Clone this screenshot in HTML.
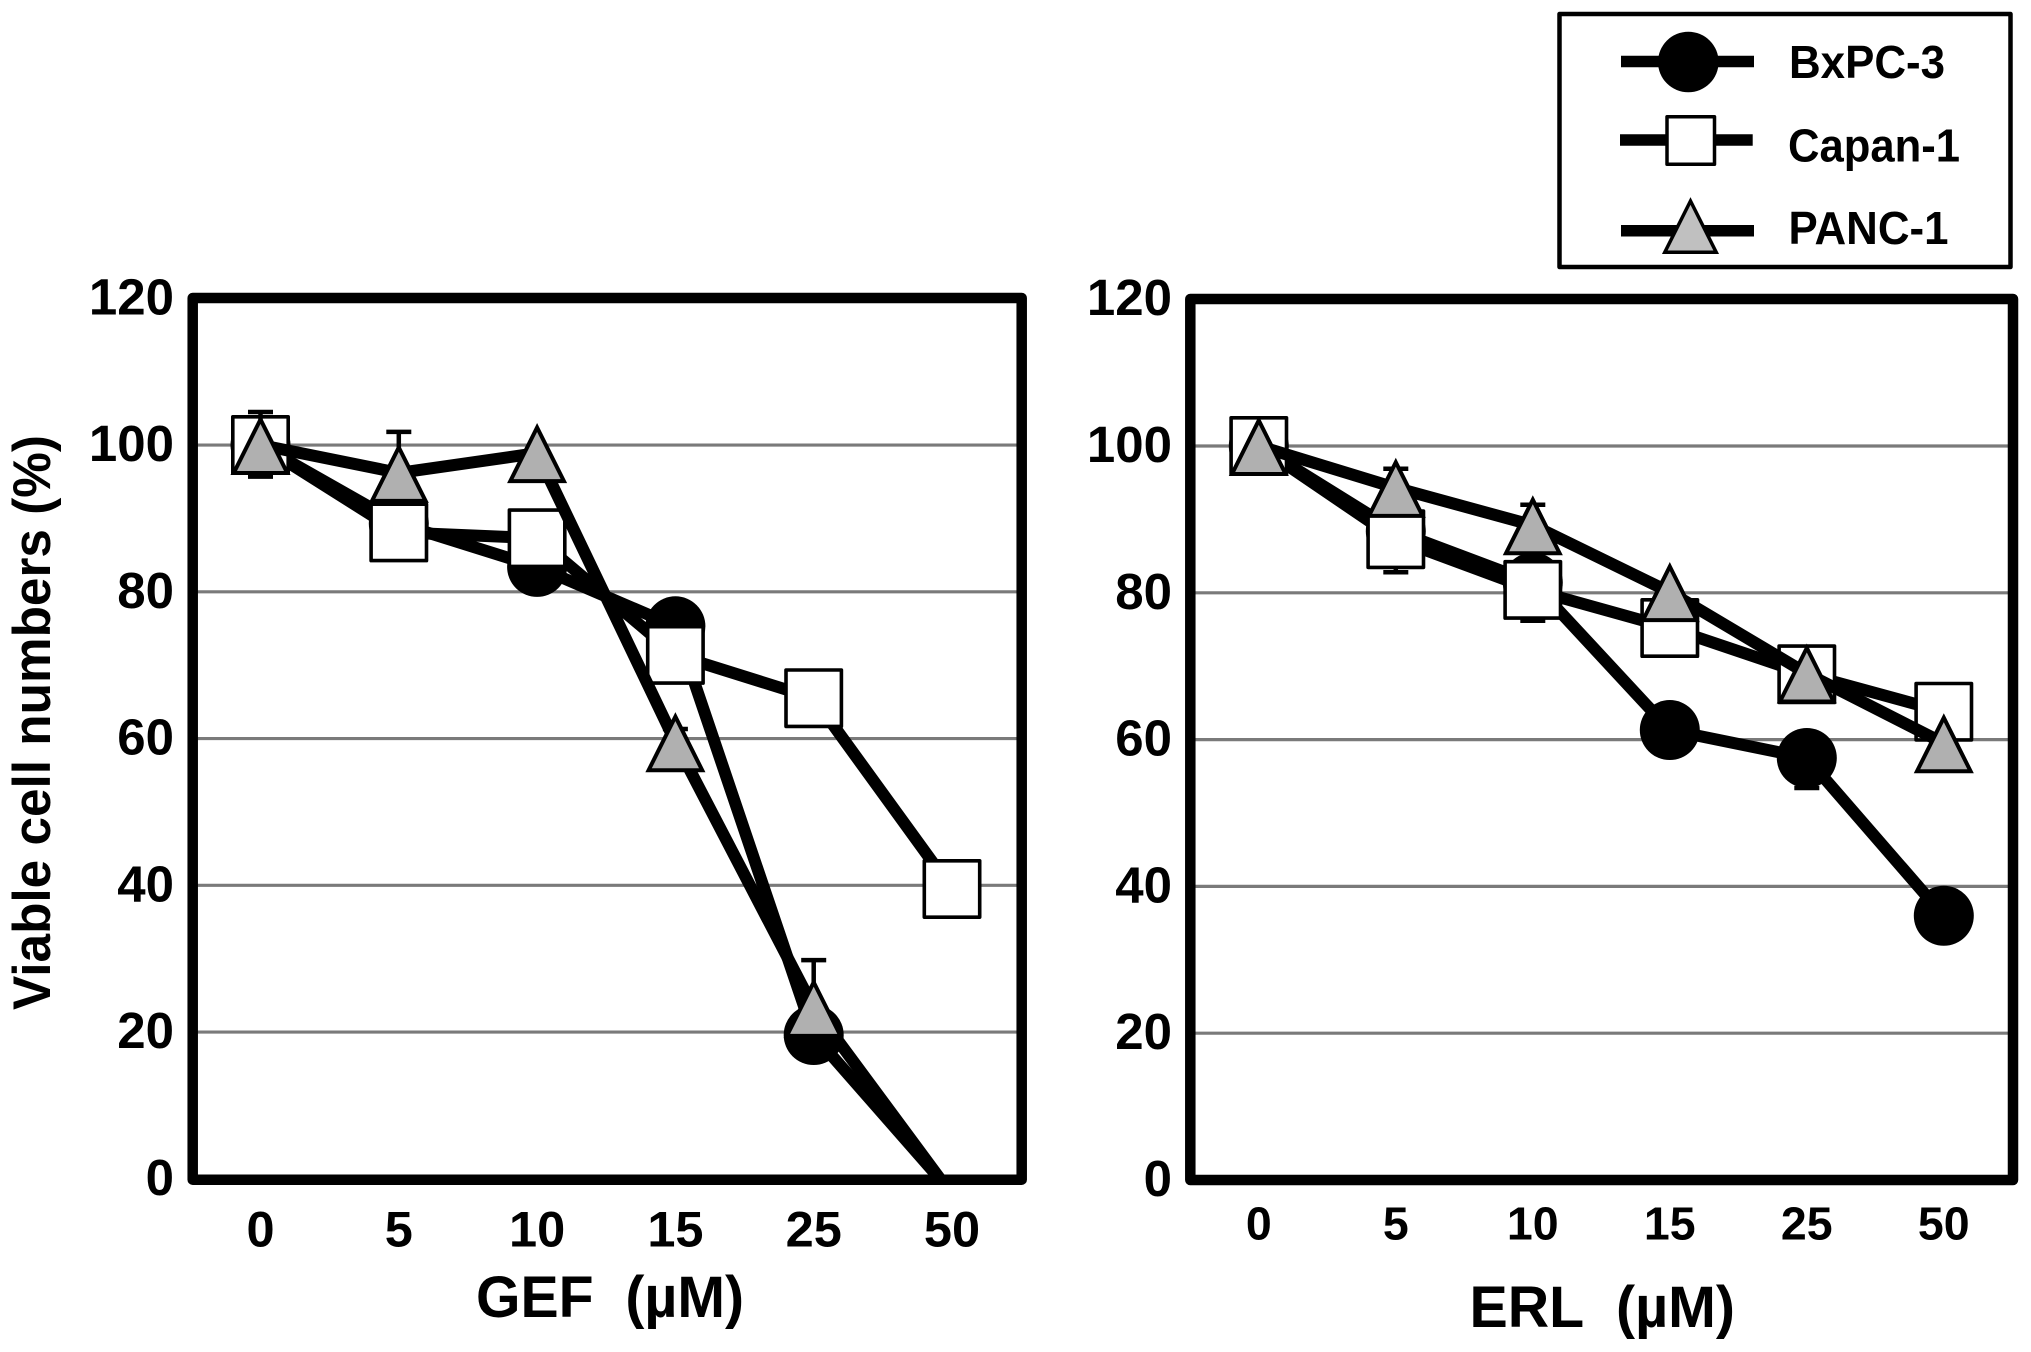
<!DOCTYPE html>
<html lang="en">
<head>
<meta charset="utf-8">
<title>Viable cell numbers versus GEF and ERL dose</title>
<style>
html,body{margin:0;padding:0;background:#fff;}
svg{display:block;}
text{font-family:"Liberation Sans",Arial,sans-serif;font-weight:bold;fill:#000;}
</style>
</head>
<body>
<svg id="chart" xmlns="http://www.w3.org/2000/svg" width="2031" height="1352" viewBox="0 0 2031 1352">
  <rect x="0" y="0" width="2031" height="1352" fill="#fff"/>
  <text transform="translate(50,1010) rotate(-90)" font-size="53" textLength="575" lengthAdjust="spacingAndGlyphs">Viable cell numbers (%)</text>
  <text x="476" y="1317" font-size="58" textLength="268" lengthAdjust="spacingAndGlyphs" xml:space="preserve">GEF&#160;&#160;(µM)</text>
  <text x="1469.5" y="1327" font-size="58" textLength="265.5" lengthAdjust="spacingAndGlyphs" xml:space="preserve">ERL&#160;&#160;(µM)</text>
  <g id="gef-panel"></g>
  <g id="erl-panel"></g>
  <g>
    <rect x="1559.5" y="14" width="451" height="253" fill="#fff" stroke="#000" stroke-width="4.5" stroke-linejoin="round"/>
    <g>
      <line x1="1621" y1="61.5" x2="1754" y2="61.5" stroke="#000" stroke-width="11.5"/>
      <circle cx="1688.3" cy="62" r="30.3" fill="#000"/>
      <text x="1789" y="78" font-size="46" textLength="156" lengthAdjust="spacingAndGlyphs">BxPC-3</text>
    </g>
    <g>
      <line x1="1620" y1="140" x2="1752.7" y2="140" stroke="#000" stroke-width="11.5"/>
      <rect x="1667" y="116.8" width="47.5" height="47.5" fill="#fff" stroke="#000" stroke-width="3.5" stroke-linejoin="round"/>
      <text x="1788" y="161.7" font-size="46" textLength="172" lengthAdjust="spacingAndGlyphs">Capan-1</text>
    </g>
    <g>
      <line x1="1621" y1="230.7" x2="1754" y2="230.7" stroke="#000" stroke-width="11.5"/>
      <polygon points="1690.5,201 1716.2,252.2 1664.8,252.2" fill="#c0c0c0" stroke="#000" stroke-width="3.5"/>
      <text x="1788.5" y="244" font-size="46" textLength="160" lengthAdjust="spacingAndGlyphs">PANC-1</text>
    </g>
  </g>
</svg>
<script>
// Categories and tick labels
const doseLabels = ["0", "5", "10", "15", "25", "50"];
const yTickLabels = [0, 20, 40, 60, 80, 100, 120];

// GEF panel values (viable cells, %); a negative value runs below the axis and has no visible marker
const gefBxpc = [100, 89.3, 83.4, 75.3, 19.6, -1.9];
const gefCapan = [100, 88.1, 87.3, 71.4, 65.5, 39.5];
const gefPanc = [100, 96.2, 98.9, 59.5, 23.3, -2.2];
// Error bars: only the visible side of each is kept (BxPC-3 and Capan-1 downward, PANC-1 upward)
const gefBxpcErr = [0, 0, 0, 0, 0, 0];
const gefCapanErr = [4.3, 0, 0, 0, 0, 0];
const gefPancErr = [4.5, 5.6, 0, 1.8, 6.5, 0];

// ERL panel values (viable cells, %)
const erlBxpc = [100, 88.4, 81.4, 61.3, 57.5, 36];
const erlCapan = [100, 87.3, 80.4, 75.2, 68.9, 63.8];
const erlPanc = [100, 94.3, 89.2, 80.1, 69, 59.5];
const erlBxpcErr = [0, 0, 0, 0, 4.1, 0];
const erlCapanErr = [0, 4.5, 4.2, 0, 0, 0];
const erlPancErr = [0, 2.6, 2.8, 0, 0, 0];

const SVG_NS = "http://www.w3.org/2000/svg";

function make(parent, tag, attrs) {
  const node = document.createElementNS(SVG_NS, tag);
  for (const key in attrs) node.setAttribute(key, attrs[key]);
  parent.appendChild(node);
  return node;
}

function drawPanel(cfg) {
  const root = document.getElementById(cfg.id);
  const xPos = i => cfg.xFirst + i * cfg.xStep;
  const yPos = v => cfg.y0 - v * cfg.yUnit;

  const clip = make(root, "clipPath", { id: cfg.id + "-clip" });
  make(clip, "rect", { x: cfg.left, y: cfg.top, width: cfg.right - cfg.left, height: cfg.bottom - cfg.top });

  yTickLabels.forEach(v => {
    const label = make(root, "text", { x: cfg.tickRight, y: yPos(v) + 16, "font-size": 51, "text-anchor": "end" });
    label.textContent = String(v);
    
    
    if (v > 0 && v < 120) {
      const grid = make(root, "line", { x1: cfg.left, x2: cfg.right, y1: yPos(v), y2: yPos(v), stroke: "#7a7a7a", "stroke-width": 3.2 });
      
      
    }
  });

  doseLabels.forEach((d, i) => {
    const label = make(root, "text", { x: xPos(i), y: cfg.xTickY, "font-size": cfg.xTickSize, "text-anchor": "middle" });
    label.textContent = d;
    
    
  });

  cfg.series.forEach(s => {
    const group = make(root, "g", {});
    
    

    const pts = s.values.map((v, i) => xPos(i) + "," + yPos(v)).join(" ");
    const line = make(group, "polyline", {
      points: pts, fill: "none", stroke: "#000", "stroke-width": 12,
      "stroke-linejoin": "round", "clip-path": "url(#" + cfg.id + "-clip)"
    });
    
    

    s.errors.forEach((e, i) => {
      if (e <= 0) return;
      const x = xPos(i);
      const start = yPos(s.values[i]);
      const end = yPos(s.values[i] + s.errDir * e);
      const bar = make(group, "path", {
        d: "M" + x + " " + start + "V" + end + "M" + (x - 12.5) + " " + end + "H" + (x + 12.5),
        fill: "none", stroke: "#000", "stroke-width": 4.5
      });
      
      
    });

    s.values.forEach((v, i) => {
      if (v <= 0) return;
      const cx = xPos(i);
      const cy = yPos(v);
      let mark;
      if (s.shape === "circle") {
        mark = make(group, "circle", { cx: cx, cy: cy, r: 30, fill: "#000" });
      } else if (s.shape === "square") {
        mark = make(group, "rect", { x: cx - 27.7, y: cy - 28.2, width: 55.4, height: 56.4, fill: "#fff", stroke: "#000", "stroke-width": 3.6, "stroke-linejoin": "round" });
      } else {
        mark = make(group, "polygon", {
          points: cx + "," + (cy - 25.6) + " " + (cx + 26.8) + "," + (cy + 28) + " " + (cx - 26.8) + "," + (cy + 28),
          fill: "#b0b0b0", stroke: "#000", "stroke-width": 4
        });
      }
      
      
    });
  });

  const frame = make(root, "rect", {
    x: cfg.left, y: cfg.top, width: cfg.right - cfg.left, height: cfg.bottom - cfg.top,
    fill: "none", stroke: "#000", "stroke-width": 10.5, "stroke-linejoin": "round"
  });
  
  
}

drawPanel({
  id: "gef-panel", left: 192.7, right: 1021.7, top: 298, bottom: 1179.7, y0: 1178.8, yUnit: 7.3375,
  xFirst: 260.5, xStep: 138.3, tickRight: 174, xTickY: 1246.5, xTickSize: 50.5,
  series: [
    { key: "bxpc-3", shape: "circle", values: gefBxpc, errors: gefBxpcErr, errDir: -1 },
    { key: "capan-1", shape: "square", values: gefCapan, errors: gefCapanErr, errDir: -1 },
    { key: "panc-1", shape: "triangle", values: gefPanc, errors: gefPancErr, errDir: 1 }
  ]
});

drawPanel({
  id: "erl-panel", left: 1190.3, right: 2013, top: 299, bottom: 1180, y0: 1180, yUnit: 7.34,
  xFirst: 1258.8, xStep: 137, tickRight: 1172, xTickY: 1239.3, xTickSize: 46.5,
  series: [
    { key: "bxpc-3", shape: "circle", values: erlBxpc, errors: erlBxpcErr, errDir: -1 },
    { key: "capan-1", shape: "square", values: erlCapan, errors: erlCapanErr, errDir: -1 },
    { key: "panc-1", shape: "triangle", values: erlPanc, errors: erlPancErr, errDir: 1 }
  ]
});
</script>
</body>
</html>
